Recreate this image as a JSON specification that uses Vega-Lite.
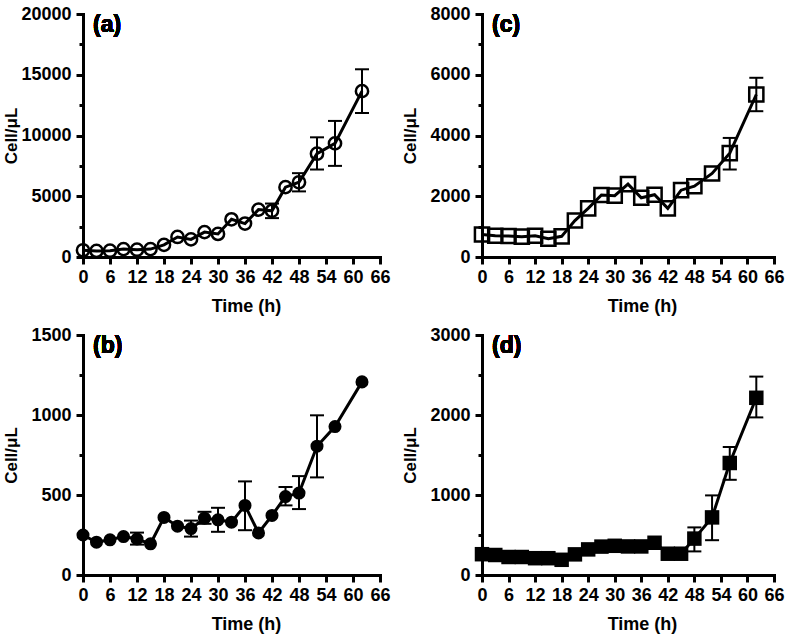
{
  "$schema": "https://vega.github.io/schema/vega-lite/v6.json",
  "background": "white",
  "padding": {"left": 2, "top": 5, "right": 5, "bottom": 5},
  "columns": 2,
  "bounds": "flush",
  "spacing": {"row": 78, "column": 102},
  "config": {
    "view": {"stroke": null},
    "axis": {
      "grid": false,
      "domainColor": "black",
      "domainWidth": 3,
      "domainCap": "square",
      "tickColor": "black",
      "tickWidth": 3,
      "tickSize": 7,
      "labelFont": "Liberation Sans",
      "labelFontWeight": "bold",
      "labelFontSize": 18,
      "labelColor": "black",
      "titleFont": "Liberation Sans",
      "titleFontWeight": "bold",
      "titleFontSize": 18,
      "titleColor": "black"
    },
    "axisX": {"labelPadding": 4, "titlePadding": 11, "labelFlush": false, "labelOverlap": false},
    "axisY": {"labelPadding": 5, "titlePadding": 5, "minExtent": 58, "maxExtent": 58, "titleFontSize": 17, "labelOverlap": false}
  },
  "datasets": {
    "a": [
      {"t": 0, "v": 550}, {"t": 3, "v": 500}, {"t": 6, "v": 520}, {"t": 9, "v": 650},
      {"t": 12, "v": 600}, {"t": 15, "v": 650}, {"t": 18, "v": 1000}, {"t": 21, "v": 1650},
      {"t": 24, "v": 1450}, {"t": 27, "v": 2050}, {"t": 30, "v": 1900}, {"t": 33, "v": 3100},
      {"t": 36, "v": 2750}, {"t": 39, "v": 3900}, {"t": 42, "v": 3800, "lo": 3200, "hi": 4400},
      {"t": 45, "v": 5750}, {"t": 48, "v": 6150, "lo": 5400, "hi": 6900},
      {"t": 52, "v": 8500, "lo": 7200, "hi": 9850}, {"t": 56, "v": 9350, "lo": 7500, "hi": 11200},
      {"t": 62, "v": 13650, "lo": 11850, "hi": 15450}
    ],
    "b": [
      {"t": 0, "v": 250}, {"t": 3, "v": 205}, {"t": 6, "v": 220}, {"t": 9, "v": 240},
      {"t": 12, "v": 225, "lo": 190, "hi": 265}, {"t": 15, "v": 195}, {"t": 18, "v": 360},
      {"t": 21, "v": 305}, {"t": 24, "v": 290, "lo": 240, "hi": 340},
      {"t": 27, "v": 355, "lo": 320, "hi": 395}, {"t": 30, "v": 345, "lo": 270, "hi": 420},
      {"t": 33, "v": 330}, {"t": 36, "v": 435, "lo": 280, "hi": 585}, {"t": 39, "v": 263},
      {"t": 42, "v": 372}, {"t": 45, "v": 490, "lo": 435, "hi": 550},
      {"t": 48, "v": 512, "lo": 412, "hi": 618}, {"t": 52, "v": 805, "lo": 610, "hi": 998},
      {"t": 56, "v": 928}, {"t": 62, "v": 1207}
    ],
    "c": [
      {"t": 0, "v": 740}, {"t": 3, "v": 700}, {"t": 6, "v": 690}, {"t": 9, "v": 670},
      {"t": 12, "v": 700}, {"t": 15, "v": 600}, {"t": 18, "v": 680}, {"t": 21, "v": 1200},
      {"t": 24, "v": 1600}, {"t": 27, "v": 2040}, {"t": 30, "v": 2020}, {"t": 33, "v": 2400},
      {"t": 36, "v": 1950}, {"t": 39, "v": 2050}, {"t": 42, "v": 1600}, {"t": 45, "v": 2200},
      {"t": 48, "v": 2330}, {"t": 52, "v": 2750}, {"t": 56, "v": 3420, "lo": 2880, "hi": 3920},
      {"t": 62, "v": 5350, "lo": 4800, "hi": 5900}
    ],
    "d": [
      {"t": 0, "v": 260}, {"t": 3, "v": 250}, {"t": 6, "v": 225}, {"t": 9, "v": 225},
      {"t": 12, "v": 210}, {"t": 15, "v": 210}, {"t": 18, "v": 190}, {"t": 21, "v": 258},
      {"t": 24, "v": 320}, {"t": 27, "v": 355}, {"t": 30, "v": 365}, {"t": 33, "v": 357},
      {"t": 36, "v": 357}, {"t": 39, "v": 403}, {"t": 42, "v": 266}, {"t": 45, "v": 266},
      {"t": 48, "v": 455, "lo": 295, "hi": 595}, {"t": 52, "v": 720, "lo": 435, "hi": 995},
      {"t": 56, "v": 1400, "lo": 1190, "hi": 1600}, {"t": 62, "v": 2215, "lo": 1970, "hi": 2480}
    ]
  },
  "concat": [
    {
      "width": 297, "height": 243,
      "data": {"name": "a"},
      "encoding": {
        "x": {"field": "t", "type": "quantitative", "title": "Time (h)", "scale": {"domain": [0, 66], "nice": false},
              "axis": {"values": [0, 6, 12, 18, 24, 30, 36, 42, 48, 54, 60, 66], "titleX": 163}},
        "y": {"field": "v", "type": "quantitative", "title": "Cell/μL", "scale": {"domain": [0, 20000], "nice": false},
              "axis": {"values": [0, 2500, 5000, 7500, 10000, 12500, 15000, 17500, 20000], "format": "d",
                       "labelExpr": "datum.value % 5000 === 0 ? datum.label : ''",
                       "tickSize": {"condition": {"test": "datum.value % 5000 !== 0", "value": 4}, "value": 7}}}
      },
      "layer": [
        {"transform": [{"filter": "isValid(datum.lo)"}], "mark": {"type": "rule", "color": "black", "strokeWidth": 2},
         "encoding": {"y": {"field": "lo", "type": "quantitative", "title": "Cell/μL"}, "y2": {"field": "hi"}}},
        {"transform": [{"filter": "isValid(datum.lo)"}], "mark": {"type": "tick", "orient": "horizontal", "color": "black", "thickness": 2, "size": 14, "opacity": 1},
         "encoding": {"y": {"field": "lo", "type": "quantitative", "title": "Cell/μL"}}},
        {"transform": [{"filter": "isValid(datum.hi)"}], "mark": {"type": "tick", "orient": "horizontal", "color": "black", "thickness": 2, "size": 14, "opacity": 1},
         "encoding": {"y": {"field": "hi", "type": "quantitative", "title": "Cell/μL"}}},
        {"mark": {"type": "line", "color": "black", "strokeWidth": 3}},
        {"mark": {"type": "point", "shape": "circle", "filled": false, "color": "black", "strokeWidth": 2.5, "size": 150, "opacity": 1}},
        {"mark": {"type": "text", "align": "left", "baseline": "top", "dx": 10, "dy": 0, "font": "Liberation Sans", "fontSize": 23, "fontWeight": "bold", "color": "black"},
         "encoding": {"x": {"datum": 0}, "y": {"datum": 20000}, "text": {"value": "(a)"}}}
      ]
    },
    {
      "width": 292, "height": 243,
      "data": {"name": "c"},
      "encoding": {
        "x": {"field": "t", "type": "quantitative", "title": "Time (h)", "scale": {"domain": [0, 66], "nice": false},
              "axis": {"values": [0, 6, 12, 18, 24, 30, 36, 42, 48, 54, 60, 66], "titleX": 160}},
        "y": {"field": "v", "type": "quantitative", "title": "Cell/μL", "scale": {"domain": [0, 8000], "nice": false},
              "axis": {"values": [0, 1000, 2000, 3000, 4000, 5000, 6000, 7000, 8000], "format": "d",
                       "labelExpr": "datum.value % 2000 === 0 ? datum.label : ''",
                       "tickSize": {"condition": {"test": "datum.value % 2000 !== 0", "value": 4}, "value": 7}}}
      },
      "layer": [
        {"transform": [{"filter": "isValid(datum.lo)"}], "mark": {"type": "rule", "color": "black", "strokeWidth": 2},
         "encoding": {"y": {"field": "lo", "type": "quantitative", "title": "Cell/μL"}, "y2": {"field": "hi"}}},
        {"transform": [{"filter": "isValid(datum.lo)"}], "mark": {"type": "tick", "orient": "horizontal", "color": "black", "thickness": 2, "size": 14, "opacity": 1},
         "encoding": {"y": {"field": "lo", "type": "quantitative", "title": "Cell/μL"}}},
        {"transform": [{"filter": "isValid(datum.hi)"}], "mark": {"type": "tick", "orient": "horizontal", "color": "black", "thickness": 2, "size": 14, "opacity": 1},
         "encoding": {"y": {"field": "hi", "type": "quantitative", "title": "Cell/μL"}}},
        {"mark": {"type": "line", "color": "black", "strokeWidth": 3}},
        {"mark": {"type": "point", "shape": "square", "filled": false, "color": "black", "strokeWidth": 2.5, "size": 200, "opacity": 1}},
        {"mark": {"type": "text", "align": "left", "baseline": "top", "dx": 10, "dy": 0, "font": "Liberation Sans", "fontSize": 23, "fontWeight": "bold", "color": "black"},
         "encoding": {"x": {"datum": 0}, "y": {"datum": 8000}, "text": {"value": "(c)"}}}
      ]
    },
    {
      "width": 297, "height": 240,
      "data": {"name": "b"},
      "encoding": {
        "x": {"field": "t", "type": "quantitative", "title": "Time (h)", "scale": {"domain": [0, 66], "nice": false},
              "axis": {"values": [0, 6, 12, 18, 24, 30, 36, 42, 48, 54, 60, 66], "titleX": 163}},
        "y": {"field": "v", "type": "quantitative", "title": "Cell/μL", "scale": {"domain": [0, 1500], "nice": false},
              "axis": {"values": [0, 250, 500, 750, 1000, 1250, 1500], "format": "d",
                       "labelExpr": "datum.value % 500 === 0 ? datum.label : ''",
                       "tickSize": {"condition": {"test": "datum.value % 500 !== 0", "value": 4}, "value": 7}}}
      },
      "layer": [
        {"transform": [{"filter": "isValid(datum.lo)"}], "mark": {"type": "rule", "color": "black", "strokeWidth": 2},
         "encoding": {"y": {"field": "lo", "type": "quantitative", "title": "Cell/μL"}, "y2": {"field": "hi"}}},
        {"transform": [{"filter": "isValid(datum.lo)"}], "mark": {"type": "tick", "orient": "horizontal", "color": "black", "thickness": 2, "size": 14, "opacity": 1},
         "encoding": {"y": {"field": "lo", "type": "quantitative", "title": "Cell/μL"}}},
        {"transform": [{"filter": "isValid(datum.hi)"}], "mark": {"type": "tick", "orient": "horizontal", "color": "black", "thickness": 2, "size": 14, "opacity": 1},
         "encoding": {"y": {"field": "hi", "type": "quantitative", "title": "Cell/μL"}}},
        {"mark": {"type": "line", "color": "black", "strokeWidth": 3}},
        {"mark": {"type": "point", "shape": "circle", "filled": true, "color": "black", "size": 170, "opacity": 1}},
        {"mark": {"type": "text", "align": "left", "baseline": "top", "dx": 10, "dy": 0, "font": "Liberation Sans", "fontSize": 23, "fontWeight": "bold", "color": "black"},
         "encoding": {"x": {"datum": 0}, "y": {"datum": 1500}, "text": {"value": "(b)"}}}
      ]
    },
    {
      "width": 292, "height": 240,
      "data": {"name": "d"},
      "encoding": {
        "x": {"field": "t", "type": "quantitative", "title": "Time (h)", "scale": {"domain": [0, 66], "nice": false},
              "axis": {"values": [0, 6, 12, 18, 24, 30, 36, 42, 48, 54, 60, 66], "titleX": 160}},
        "y": {"field": "v", "type": "quantitative", "title": "Cell/μL", "scale": {"domain": [0, 3000], "nice": false},
              "axis": {"values": [0, 500, 1000, 1500, 2000, 2500, 3000], "format": "d",
                       "labelExpr": "datum.value % 1000 === 0 ? datum.label : ''",
                       "tickSize": {"condition": {"test": "datum.value % 1000 !== 0", "value": 4}, "value": 7}}}
      },
      "layer": [
        {"transform": [{"filter": "isValid(datum.lo)"}], "mark": {"type": "rule", "color": "black", "strokeWidth": 2},
         "encoding": {"y": {"field": "lo", "type": "quantitative", "title": "Cell/μL"}, "y2": {"field": "hi"}}},
        {"transform": [{"filter": "isValid(datum.lo)"}], "mark": {"type": "tick", "orient": "horizontal", "color": "black", "thickness": 2, "size": 14, "opacity": 1},
         "encoding": {"y": {"field": "lo", "type": "quantitative", "title": "Cell/μL"}}},
        {"transform": [{"filter": "isValid(datum.hi)"}], "mark": {"type": "tick", "orient": "horizontal", "color": "black", "thickness": 2, "size": 14, "opacity": 1},
         "encoding": {"y": {"field": "hi", "type": "quantitative", "title": "Cell/μL"}}},
        {"mark": {"type": "line", "color": "black", "strokeWidth": 3}},
        {"mark": {"type": "point", "shape": "square", "filled": true, "color": "black", "size": 210, "opacity": 1}},
        {"mark": {"type": "text", "align": "left", "baseline": "top", "dx": 10, "dy": 0, "font": "Liberation Sans", "fontSize": 23, "fontWeight": "bold", "color": "black"},
         "encoding": {"x": {"datum": 0}, "y": {"datum": 3000}, "text": {"value": "(d)"}}}
      ]
    }
  ]
}
